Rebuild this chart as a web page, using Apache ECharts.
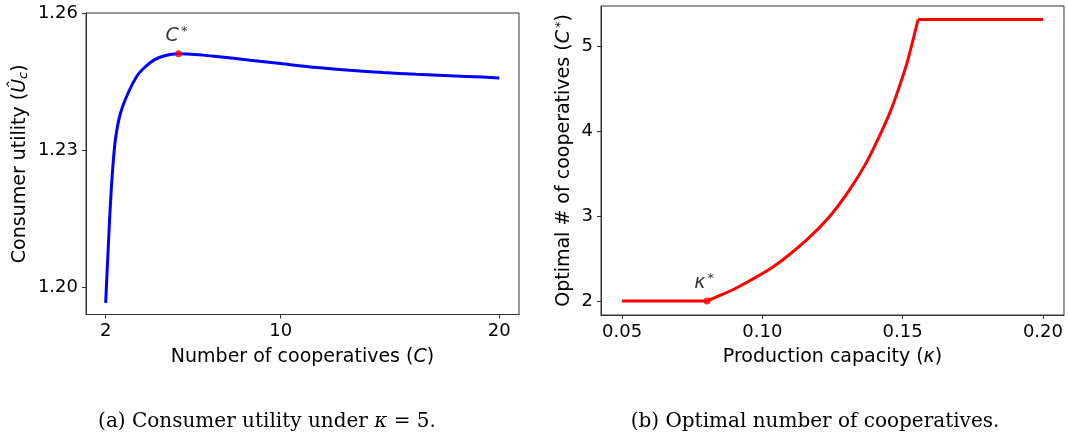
<!DOCTYPE html>
<html>
<head>
<meta charset="utf-8">
<script src="https://cdn.jsdelivr.net/npm/echarts@6/dist/echarts.min.js"></script>
<style>
  html, body { margin: 0; padding: 0; background: #fff; }
  #chart { width: 1068px; height: 438px; }
</style>
</head>
<body>
<div id="chart"></div>
<script>
// (a) consumer utility vs number of cooperatives
const leftC = [2.0, 2.045, 2.09, 2.18, 2.29, 2.44, 2.67, 3.05, 3.44, 3.8, 4.2, 4.65, 5.33, 6.47, 7.08, 8.6, 10.1, 11.64, 13.16, 14.68, 16.2, 17.72, 19.24, 20]
const leftU = [1.1967, 1.2015, 1.2060, 1.2150, 1.2240, 1.2322, 1.2380, 1.2428, 1.2463, 1.2482, 1.2497, 1.2506, 1.2511, 1.2508, 1.2505, 1.2497, 1.2489, 1.2481, 1.2475, 1.2470, 1.2466, 1.2463, 1.2460, 1.2458]
const leftXTicks = [2, 10, 20]
const leftYTicks = [1.20, 1.23, 1.26]
const cStar = [5.33, 1.2511]

// (b) optimal number of cooperatives vs production capacity
const rightK = [0.05, 0.0803, 0.086, 0.0921, 0.1039, 0.1157, 0.1239, 0.131, 0.1369, 0.1416, 0.1452, 0.1475, 0.1515, 0.1555, 0.2]
const rightC = [2, 2, 2.08, 2.177, 2.404, 2.718, 2.993, 3.307, 3.622, 3.935, 4.20, 4.40, 4.80, 5.318, 5.318]
const rightXTicks = [0.05, 0.10, 0.15, 0.20]
const rightYTicks = [2, 3, 4, 5]
const kStar = [0.0803, 2]

const FONT = 'DejaVu Sans'
const zip = (xs, ys) => xs.map((x, i) => [x, ys[i]])
const leftLine = zip(leftC, leftU)
const rightLine = zip(rightK, rightC)
const kIdx = 1   // end of the low flat part
const topIdx = 13 // corner where the curve hits the cap

const tickStyle = { show: true, length: 4, lineStyle: { color: '#333', width: 1 } }
const axisLine = { show: true, lineStyle: { color: '#333', width: 1 } }
const labelBase = { color: '#000', fontFamily: FONT, fontSize: 18 }

const makeAxis = (gridIndex, min, max, ticks, fmt, extra) => Object.assign({
  type: 'value',
  gridIndex,
  min,
  max,
  axisLine,
  axisTick: Object.assign({ customValues: ticks }, tickStyle),
  axisLabel: Object.assign({ customValues: ticks, formatter: fmt }, labelBase),
  splitLine: { show: false },
  nameLocation: 'middle',
  nameTextStyle: { color: '#000', fontFamily: FONT, fontSize: 19 }
}, extra)

const starRich = {
  i: { fontFamily: FONT, fontSize: 19, fontStyle: 'italic', color: '#000' },
  s: { fontFamily: FONT, fontSize: 13, color: '#000', verticalAlign: 'top', padding: [0, 0, 8, 2] }
}

const option = {
  animation: false,
  backgroundColor: '#fff',
  title: [
    {
      text: '(a) Consumer utility under {i|κ} = 5.',
      left: 262, top: 407, textAlign: 'center',
      textStyle: {
        fontFamily: 'DejaVu Serif', fontSize: 20, fontWeight: 'normal', color: '#000',
        rich: { i: { fontFamily: 'DejaVu Serif', fontSize: 20, fontStyle: 'italic', color: '#000' } }
      }
    },
    {
      text: '(b) Optimal number of cooperatives.',
      left: 810, top: 407, textAlign: 'center',
      textStyle: { fontFamily: 'DejaVu Serif', fontSize: 20, fontWeight: 'normal', color: '#000' }
    }
  ],
  grid: [
    { left: 86, top: 13, width: 433, height: 301.5, show: true, borderColor: '#333', borderWidth: 1 },
    { left: 601, top: 6, width: 463, height: 309, show: true, borderColor: '#333', borderWidth: 1 }
  ],
  xAxis: [
    makeAxis(0, 1.1, 20.9, leftXTicks, v => String(v), {
      name: 'Number of cooperatives ({i|C})', nameGap: 33,
      nameTextStyle: { color: '#000', fontFamily: FONT, fontSize: 19, rich: { i: { fontFamily: FONT, fontSize: 19, fontStyle: 'italic', color: '#000' } } }
    }),
    makeAxis(1, 0.0425, 0.2075, rightXTicks, v => v.toFixed(2), {
      name: 'Production capacity ({i|κ})', nameGap: 33,
      nameTextStyle: { color: '#000', fontFamily: FONT, fontSize: 19, rich: { i: { fontFamily: FONT, fontSize: 19, fontStyle: 'italic', color: '#000' } } }
    })
  ],
  yAxis: [
    makeAxis(0, 1.19415, 1.26, leftYTicks, v => v.toFixed(2), {
      name: 'Consumer utility ({i|Û}{sub|c})', nameGap: 56,
      nameTextStyle: {
        color: '#000', fontFamily: FONT, fontSize: 19,
        rich: {
          i: { fontFamily: FONT, fontSize: 19, fontStyle: 'italic', color: '#000' },
          sub: { fontFamily: FONT, fontSize: 13, fontStyle: 'italic', color: '#000', verticalAlign: 'bottom', padding: [6, 0, 0, 0] }
        }
      }
    }),
    makeAxis(1, 1.835, 5.477, rightYTicks, v => String(v), {
      name: 'Optimal # of cooperatives ({i|C}{s|*})', nameGap: 26,
      nameTextStyle: { color: '#000', fontFamily: FONT, fontSize: 19, rich: starRich }
    })
  ],
  series: [
    {
      type: 'line', xAxisIndex: 0, yAxisIndex: 0,
      data: leftLine, showSymbol: false, smooth: 0.25,
      lineStyle: { color: '#0000ff', width: 3 }, z: 2
    },
    {
      type: 'scatter', xAxisIndex: 0, yAxisIndex: 0,
      data: [cStar], symbolSize: 7, itemStyle: { color: '#ff0000' }, z: 3,
      label: { show: true, color: '#000', position: 'top', distance: 4, offset: [-2, 0], formatter: '{i|C}{s|*}', rich: starRich }
    },
    {
      type: 'line', xAxisIndex: 1, yAxisIndex: 1,
      data: rightLine.slice(0, kIdx + 1), showSymbol: false,
      lineStyle: { color: '#ff0000', width: 3 }, z: 2
    },
    {
      type: 'line', xAxisIndex: 1, yAxisIndex: 1,
      data: rightLine.slice(kIdx, topIdx + 1), showSymbol: false, smooth: 0.25,
      lineStyle: { color: '#ff0000', width: 3 }, z: 2
    },
    {
      type: 'line', xAxisIndex: 1, yAxisIndex: 1,
      data: rightLine.slice(topIdx), showSymbol: false,
      lineStyle: { color: '#ff0000', width: 3 }, z: 2
    },
    {
      type: 'scatter', xAxisIndex: 1, yAxisIndex: 1,
      data: [kStar], symbolSize: 7, itemStyle: { color: '#ff0000' }, z: 3,
      label: { show: true, color: '#000', position: 'top', distance: 4, offset: [-3, 0], formatter: '{i|κ}{s|*}', rich: starRich }
    }
  ]
}

const chart = echarts.init(document.getElementById('chart'))
chart.setOption(option)
</script>
</body>
</html>
